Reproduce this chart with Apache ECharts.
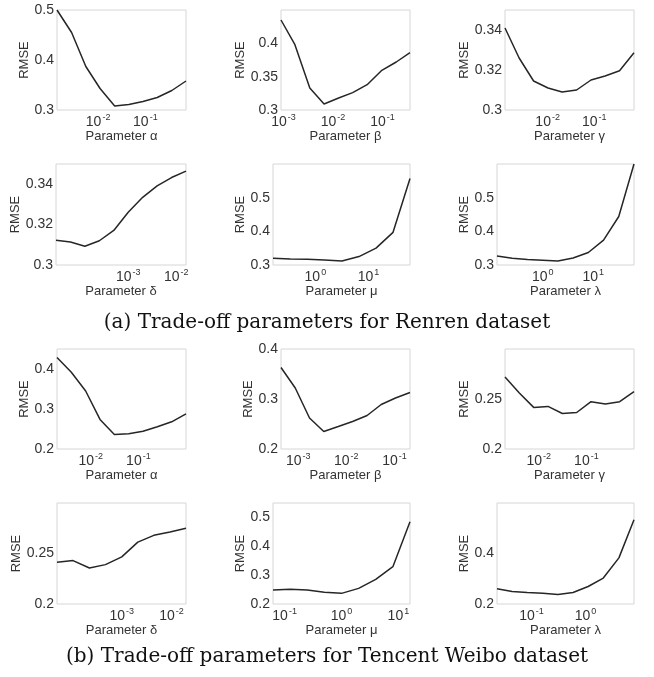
<!DOCTYPE html>
<html>
<head>
<meta charset="utf-8">
<script src="https://cdn.jsdelivr.net/npm/echarts@6/dist/echarts.min.js"></script>
<style>
  html, body { margin: 0; padding: 0; background: #fff; }
  #chart { width: 654px; height: 677px; }
</style>
</head>
<body>
<div id="chart"></div>
<script>
// (a) Renren
var alphaA = [0.00135, 0.00275, 0.0055, 0.011, 0.0224, 0.0447, 0.089, 0.178, 0.363, 0.724];
var rmseAlphaA = [0.5, 0.455, 0.387, 0.343, 0.308, 0.311, 0.317, 0.325, 0.339, 0.358];
var betaA = [0.00089, 0.0017, 0.0034, 0.0066, 0.013, 0.025, 0.049, 0.095, 0.19, 0.36];
var rmseBetaA = [0.435, 0.398, 0.333, 0.309, 0.318, 0.326, 0.338, 0.359, 0.372, 0.386];
var gammaA = [0.00122, 0.00245, 0.005, 0.0102, 0.0204, 0.0417, 0.085, 0.17, 0.347, 0.708];
var rmseGammaA = [0.341, 0.326, 0.3145, 0.311, 0.309, 0.31, 0.315, 0.317, 0.3196, 0.3286];
var deltaA = [0.00003125, 0.0000625, 0.000125, 0.00025, 0.0005, 0.001, 0.002, 0.004, 0.008, 0.016];
var rmseDeltaA = [0.3122, 0.3114, 0.3093, 0.312, 0.3171, 0.3261, 0.3335, 0.3392, 0.3433, 0.3465];
var muA = [0.16, 0.34, 0.71, 1.48, 3.16, 6.6, 13.8, 28.8, 60];
var rmseMuA = [0.32, 0.318, 0.317, 0.315, 0.312, 0.325, 0.35, 0.397, 0.557];
var lambdaA = [0.125, 0.25, 0.5, 1, 2, 4, 8, 16, 32, 64];
var rmseLambdaA = [0.327, 0.32, 0.316, 0.314, 0.312, 0.321, 0.337, 0.374, 0.444, 0.6];

// (b) Tencent Weibo
var alphaB = [0.00195, 0.0039, 0.0078, 0.0156, 0.03125, 0.0625, 0.125, 0.25, 0.5, 1];
var rmseAlphaB = [0.429, 0.392, 0.345, 0.274, 0.236, 0.238, 0.2445, 0.2555, 0.268, 0.288];
var betaB = [0.00044, 0.00087, 0.00172, 0.0034, 0.0068, 0.0135, 0.027, 0.053, 0.105, 0.21];
var rmseBetaB = [0.363, 0.322, 0.262, 0.235, 0.245, 0.255, 0.267, 0.289, 0.302, 0.313];
var gammaB = [0.00195, 0.0039, 0.0078, 0.0156, 0.03125, 0.0625, 0.125, 0.25, 0.5, 1];
var rmseGammaB = [0.272, 0.256, 0.2416, 0.2426, 0.2355, 0.2365, 0.2473, 0.2449, 0.2473, 0.2574];
var deltaB = [0.00005, 0.000105, 0.000224, 0.00047, 0.001, 0.0021, 0.0044, 0.0093, 0.0195];
var rmseDeltaB = [0.2413, 0.243, 0.2357, 0.239, 0.2467, 0.2613, 0.268, 0.2713, 0.275];
var muB = [0.0625, 0.125, 0.25, 0.5, 1, 2, 4, 8, 16];
var rmseMuB = [0.2484, 0.2507, 0.2484, 0.2404, 0.2369, 0.2542, 0.2854, 0.3292, 0.485];
var lambdaB = [0.0229, 0.0437, 0.0832, 0.162, 0.309, 0.589, 1.12, 2.14, 4.17, 7.94];
var rmseLambdaB = [0.26, 0.2493, 0.2453, 0.2427, 0.2373, 0.2453, 0.2693, 0.3027, 0.3827, 0.5333];

// y tick labels
var yTicks1 = ['0.3', '0.4', '0.5'];
var yTicks2 = ['0.3', '0.35', '0.4'];
var yTicks3 = ['0.3', '0.32', '0.34'];
var yTicks7 = ['0.2', '0.3', '0.4'];
var yTicks9 = ['0.2', '0.25'];
var yTicks11 = ['0.2', '0.3', '0.4', '0.5'];
var yTicks12 = ['0.2', '0.4'];

// x tick labels (powers of ten shown)
var xPow21 = [-2, -1];
var xPow321 = [-3, -2, -1];
var xPow32 = [-3, -2];
var xPow01 = [0, 1];
var xPow101 = [-1, 0, 1];
var xPow10 = [-1, 0];

var captions = ['(a) Trade-off parameters for Renren dataset', '(b) Trade-off parameters for Tencent Weibo dataset'];

var panels = [
  {name: 'Parameter α', x: alphaA, y: rmseAlphaA, box: [57, 10, 186, 110], yMin: 0.3, yMax: 0.5, step: 0.1, ticks: yTicks1, pows: xPow21, gap: 23},
  {name: 'Parameter β', x: betaA, y: rmseBetaA, box: [281, 10, 410, 110], yMin: 0.3, yMax: 0.45, step: 0.05, ticks: yTicks2, pows: xPow321, gap: 30},
  {name: 'Parameter γ', x: gammaA, y: rmseGammaA, box: [505, 10, 634, 110], yMin: 0.3, yMax: 0.35, step: 0.02, ticks: yTicks3, pows: xPow21, gap: 30},
  {name: 'Parameter δ', x: deltaA, y: rmseDeltaA, box: [56, 164, 186, 265], yMin: 0.3, yMax: 0.35, step: 0.02, ticks: yTicks3, pows: xPow32, gap: 30},
  {name: 'Parameter μ', x: muA, y: rmseMuA, box: [273, 164, 410, 265], yMin: 0.3, yMax: 0.6, step: 0.1, ticks: yTicks1, pows: xPow01, gap: 24},
  {name: 'Parameter λ', x: lambdaA, y: rmseLambdaA, box: [497, 164, 634, 265], yMin: 0.3, yMax: 0.6, step: 0.1, ticks: yTicks1, pows: xPow01, gap: 24},
  {name: 'Parameter α', x: alphaB, y: rmseAlphaB, box: [57, 349, 186, 449], yMin: 0.2, yMax: 0.45, step: 0.1, ticks: yTicks7, pows: xPow21, gap: 23},
  {name: 'Parameter β', x: betaB, y: rmseBetaB, box: [281, 349, 410, 449], yMin: 0.2, yMax: 0.4, step: 0.1, ticks: yTicks7, pows: xPow321, gap: 23},
  {name: 'Parameter γ', x: gammaB, y: rmseGammaB, box: [505, 349, 634, 449], yMin: 0.2, yMax: 0.3, step: 0.05, ticks: yTicks9, pows: xPow21, gap: 32},
  {name: 'Parameter δ', x: deltaB, y: rmseDeltaB, box: [57, 503, 186, 604], yMin: 0.2, yMax: 0.3, step: 0.05, ticks: yTicks9, pows: xPow32, gap: 31},
  {name: 'Parameter μ', x: muB, y: rmseMuB, box: [273, 503, 410, 604], yMin: 0.2, yMax: 0.55, step: 0.1, ticks: yTicks11, pows: xPow101, gap: 24},
  {name: 'Parameter λ', x: lambdaB, y: rmseLambdaB, box: [497, 503, 634, 604], yMin: 0.2, yMax: 0.6, step: 0.2, ticks: yTicks12, pows: xPow10, gap: 24}
];

var textColor = '#333';
var font = 'Liberation Sans, Arial, sans-serif';

function powLabel(pows) {
  return function (v) {
    var e = Math.log10(v);
    var r = Math.round(e);
    if (Math.abs(e - r) > 1e-6 || pows.indexOf(r) < 0) return '';
    return '{b|10}{s|' + r + '}';
  };
}

var grid = [], xAxis = [], yAxis = [], series = [];
panels.forEach(function (p, i) {
  grid.push({
    left: p.box[0], top: p.box[1],
    width: p.box[2] - p.box[0], height: p.box[3] - p.box[1],
    show: true, borderColor: '#d6d6d6', borderWidth: 1,
    outerBoundsMode: 'none'
  });
  xAxis.push({
    type: 'log', logBase: 10, gridIndex: i,
    min: p.x[0], max: p.x[p.x.length - 1],
    name: p.name, nameLocation: 'middle', nameGap: 19,
    nameTextStyle: {color: textColor, fontSize: 13, fontFamily: font},
    axisLine: {show: false}, axisTick: {show: false}, splitLine: {show: false},
    axisLabel: {
      margin: 3, color: textColor, fontFamily: font,
      formatter: powLabel(p.pows),
      rich: {
        b: {fontSize: 14, color: textColor, fontFamily: font, verticalAlign: 'bottom'},
        s: {fontSize: 9, color: textColor, fontFamily: font, verticalAlign: 'bottom', padding: [0, 0, 7, 1]}
      }
    }
  });
  yAxis.push({
    type: 'value', gridIndex: i,
    min: p.yMin, max: p.yMax, interval: p.step,
    name: 'RMSE', nameLocation: 'middle', nameGap: p.gap, nameRotate: 90,
    nameTextStyle: {color: textColor, fontSize: 13, fontFamily: font},
    axisLine: {show: false}, axisTick: {show: false}, splitLine: {show: false},
    axisLabel: {
      margin: 3, color: textColor, fontSize: 14, fontFamily: font,
      showMaxLabel: true, showMinLabel: true,
      formatter: function (v) {
        for (var k = 0; k < p.ticks.length; k++) {
          if (Math.abs(parseFloat(p.ticks[k]) - v) < 1e-6) return p.ticks[k];
        }
        return '';
      }
    }
  });
  series.push({
    type: 'line', xAxisIndex: i, yAxisIndex: i,
    data: p.x.map(function (x, k) { return [x, p.y[k]]; }),
    showSymbol: false, symbol: 'none',
    lineStyle: {color: '#262626', width: 1.5},
    animation: false
  });
});

var captionStyle = {fontFamily: 'DejaVu Serif, serif', fontWeight: 'normal', fontSize: 20, color: '#111'};
var chart = echarts.init(document.getElementById('chart'));
chart.setOption({
  backgroundColor: '#fff',
  animation: false,
  title: [
    {text: captions[0], left: 'center', top: 308, textStyle: captionStyle},
    {text: captions[1], left: 'center', top: 642, textStyle: captionStyle}
  ],
  grid: grid,
  xAxis: xAxis,
  yAxis: yAxis,
  series: series
});
</script>
</body>
</html>
